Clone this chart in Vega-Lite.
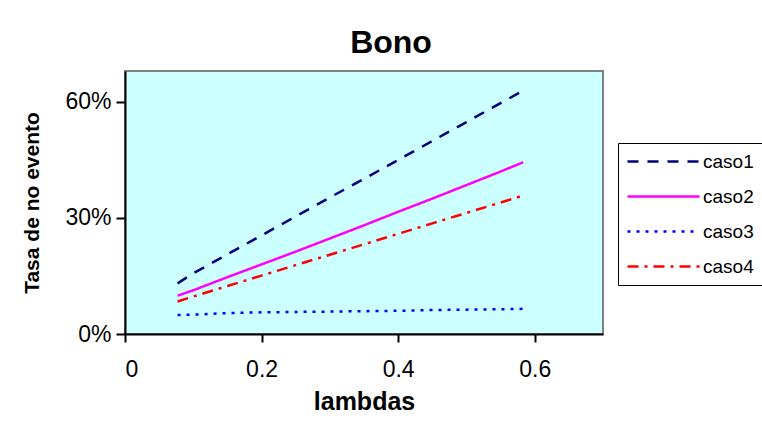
{
  "$schema": "https://vega.github.io/schema/vega-lite/v6.json",
  "autosize": {"type": "none"},
  "padding": {"left": 125, "top": 71, "right": 159, "bottom": 91},
  "width": 478,
  "height": 263,
  "background": "white",
  "title": {"text": "Bono", "fontSize": 32, "font": "Liberation Sans", "fontWeight": "bold", "color": "black", "anchor": "middle", "dx": 27, "offset": 11},
  "data": {"values": [
    {"lambda": 0.077, "caso": "caso1", "tasa": 0.131},
    {"lambda": 0.1, "caso": "caso1", "tasa": 0.157},
    {"lambda": 0.15, "caso": "caso1", "tasa": 0.206},
    {"lambda": 0.2, "caso": "caso1", "tasa": 0.255},
    {"lambda": 0.25, "caso": "caso1", "tasa": 0.304},
    {"lambda": 0.3, "caso": "caso1", "tasa": 0.353},
    {"lambda": 0.35, "caso": "caso1", "tasa": 0.401},
    {"lambda": 0.4, "caso": "caso1", "tasa": 0.45},
    {"lambda": 0.45, "caso": "caso1", "tasa": 0.499},
    {"lambda": 0.5, "caso": "caso1", "tasa": 0.548},
    {"lambda": 0.55, "caso": "caso1", "tasa": 0.597},
    {"lambda": 0.583, "caso": "caso1", "tasa": 0.629},
    {"lambda": 0.077, "caso": "caso2", "tasa": 0.099},
    {"lambda": 0.1, "caso": "caso2", "tasa": 0.113},
    {"lambda": 0.15, "caso": "caso2", "tasa": 0.147},
    {"lambda": 0.2, "caso": "caso2", "tasa": 0.18},
    {"lambda": 0.25, "caso": "caso2", "tasa": 0.213},
    {"lambda": 0.3, "caso": "caso2", "tasa": 0.247},
    {"lambda": 0.35, "caso": "caso2", "tasa": 0.281},
    {"lambda": 0.4, "caso": "caso2", "tasa": 0.316},
    {"lambda": 0.45, "caso": "caso2", "tasa": 0.35},
    {"lambda": 0.5, "caso": "caso2", "tasa": 0.385},
    {"lambda": 0.55, "caso": "caso2", "tasa": 0.42},
    {"lambda": 0.583, "caso": "caso2", "tasa": 0.444},
    {"lambda": 0.077, "caso": "caso3", "tasa": 0.049},
    {"lambda": 0.1, "caso": "caso3", "tasa": 0.05},
    {"lambda": 0.15, "caso": "caso3", "tasa": 0.054},
    {"lambda": 0.2, "caso": "caso3", "tasa": 0.056},
    {"lambda": 0.25, "caso": "caso3", "tasa": 0.057},
    {"lambda": 0.3, "caso": "caso3", "tasa": 0.058},
    {"lambda": 0.35, "caso": "caso3", "tasa": 0.059},
    {"lambda": 0.4, "caso": "caso3", "tasa": 0.06},
    {"lambda": 0.45, "caso": "caso3", "tasa": 0.062},
    {"lambda": 0.5, "caso": "caso3", "tasa": 0.063},
    {"lambda": 0.55, "caso": "caso3", "tasa": 0.064},
    {"lambda": 0.583, "caso": "caso3", "tasa": 0.065},
    {"lambda": 0.077, "caso": "caso4", "tasa": 0.084},
    {"lambda": 0.1, "caso": "caso4", "tasa": 0.097},
    {"lambda": 0.15, "caso": "caso4", "tasa": 0.124},
    {"lambda": 0.2, "caso": "caso4", "tasa": 0.151},
    {"lambda": 0.25, "caso": "caso4", "tasa": 0.178},
    {"lambda": 0.3, "caso": "caso4", "tasa": 0.205},
    {"lambda": 0.35, "caso": "caso4", "tasa": 0.232},
    {"lambda": 0.4, "caso": "caso4", "tasa": 0.259},
    {"lambda": 0.45, "caso": "caso4", "tasa": 0.286},
    {"lambda": 0.5, "caso": "caso4", "tasa": 0.313},
    {"lambda": 0.55, "caso": "caso4", "tasa": 0.34},
    {"lambda": 0.583, "caso": "caso4", "tasa": 0.358}
  ]},
  "mark": {"type": "line", "strokeWidth": 2.5, "interpolate": "linear"},
  "encoding": {
    "x": {
      "field": "lambda", "type": "quantitative",
      "scale": {"domain": [0, 0.7], "nice": false, "zero": false},
      "axis": {
        "title": "lambdas", "values": [0, 0.2, 0.4, 0.6], "format": "~g",
        "grid": false, "domainColor": "black", "domainWidth": 2,
        "tickColor": "black", "tickWidth": 2, "tickSize": 8,
        "labelFont": "Liberation Sans", "labelFontSize": 23, "labelColor": "black", "labelPadding": 16,
        "titleFont": "Liberation Sans", "titleFontSize": 25, "titleFontWeight": "bold", "titleColor": "black", "titlePadding": 8
      }
    },
    "y": {
      "field": "tasa", "type": "quantitative",
      "scale": {"domain": [0, 0.68], "nice": false, "zero": true},
      "axis": {
        "title": "Tasa de no evento", "values": [0, 0.3, 0.6], "format": ".0%",
        "grid": false, "domainColor": "black", "domainWidth": 2,
        "tickColor": "black", "tickWidth": 2, "tickSize": 9,
        "labelFont": "Liberation Sans", "labelFontSize": 23, "labelColor": "black", "labelPadding": 5,
        "titleFont": "Liberation Sans", "titleFontSize": 21, "titleFontWeight": "bold", "titleColor": "black", "titlePadding": 22
      }
    },
    "color": {
      "field": "caso", "type": "nominal",
      "scale": {"domain": ["caso1", "caso2", "caso3", "caso4"], "range": ["#000080", "#FF00FF", "#0000FF", "#FF0000"]},
      "legend": {
        "title": null, "orient": "none", "legendX": 493, "legendY": 72,
        "symbolType": "M-4,0H4", "symbolSize": 324, "symbolStrokeWidth": 2.5, "symbolOffset": 27,
        "labelFont": "Liberation Sans", "labelFontSize": 19, "labelColor": "black", "labelOffset": 29,
        "strokeColor": "black", "fillColor": "white", "padding": 8, "rowPadding": 14
      }
    },
    "strokeDash": {
      "field": "caso", "type": "nominal",
      "scale": {"domain": ["caso1", "caso2", "caso3", "caso4"], "range": [[11, 9], [1, 0], [3, 6], [11, 6, 3, 6]]},
      "legend": null
    }
  },
  "config": {
    "view": {"fill": "#CCFFFF", "stroke": "#808080", "strokeWidth": 2}
  }
}
